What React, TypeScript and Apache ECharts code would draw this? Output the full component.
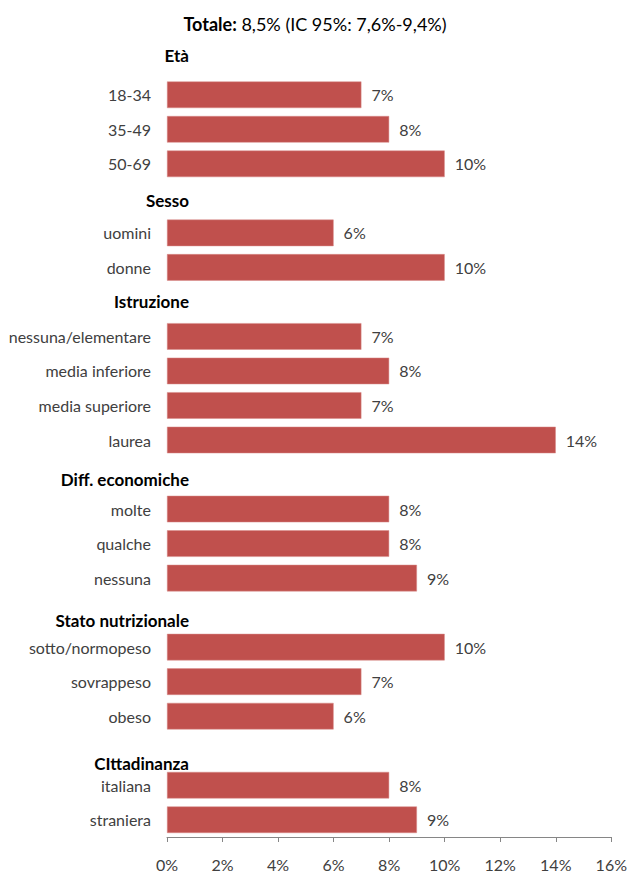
import React, { useEffect, useRef } from "react";
import * as echarts from "echarts";

// ---- data ----
const groupNames = ["Età", "Sesso", "Istruzione", "Diff. economiche", "Stato nutrizionale", "CIttadinanza"];
const etaCats = ["18-34", "35-49", "50-69"];
const etaVals = [7, 8, 10];
const sessoCats = ["uomini", "donne"];
const sessoVals = [6, 10];
const istruzioneCats = ["nessuna/elementare", "media inferiore", "media superiore", "laurea"];
const istruzioneVals = [7, 8, 7, 14];
const diffCats = ["molte", "qualche", "nessuna"];
const diffVals = [8, 8, 9];
const statoCats = ["sotto/normopeso", "sovrappeso", "obeso"];
const statoVals = [10, 7, 6];
const cittCats = ["italiana", "straniera"];
const cittVals = [8, 9];
const xTicks = [0, 2, 4, 6, 8, 10, 12, 14, 16];
const titleBold = "Totale:";
const titleRest = " 8,5% (IC 95%: 7,6%-9,4%)";

const groupCats = [etaCats, sessoCats, istruzioneCats, diffCats, statoCats, cittCats];
const groupVals = [etaVals, sessoVals, istruzioneVals, diffVals, statoVals, cittVals];

// layout (positions only)
const headerY = [57, 202, 303, 481, 622, 765];
const FONT = "Lato, 'Open Sans', sans-serif";

export default function App() {
  const ref = useRef<HTMLDivElement>(null);
  useEffect(() => {
    document.body.style.margin = "0";
    if (!ref.current) return;
    const chart = echarts.init(ref.current, null, { renderer: "svg" });

    const categories: string[] = [];
    const values: (number | null)[] = [];
    const headerSet = new Set<string>();
    groupNames.forEach((g, i) => {
      categories.push(g);
      headerSet.add(g);
      values.push(null);
      groupCats[i].forEach((c, j) => {
        categories.push(c);
        values.push(groupVals[i][j]);
      });
    });
    const keys = categories.map((c, i) => c + "#" + i);

    chart.setOption({
      animation: false,
      textStyle: { fontFamily: FONT },
      title: {
        text: `{b|${titleBold}}{n|${titleRest}}`,
        left: "center",
        top: 10,
        textStyle: {
          fontWeight: "normal",
          rich: {
            b: { fontFamily: FONT, fontSize: 18, fontWeight: "bold", color: "#000" },
            n: { fontFamily: FONT, fontSize: 18, fontWeight: "normal", color: "#000" },
          },
        },
      },
      grid: { left: 167, right: 15, top: 43, bottom: 34, containLabel: false },
      xAxis: {
        type: "value",
        min: xTicks[0],
        max: xTicks[xTicks.length - 1],
        interval: 2,
        axisLine: { show: true, lineStyle: { color: "#868686", width: 1 } },
        axisTick: { show: true, length: 5, lineStyle: { color: "#868686" } },
        splitLine: { show: false },
        axisLabel: {
          formatter: (v: number) => `${v}%`,
          fontSize: 16,
          color: "#404040",
          fontFamily: FONT,
          margin: 19,
        },
      },
      yAxis: {
        type: "category",
        inverse: true,
        data: keys,
        axisLine: { show: false },
        axisTick: { show: false },
        axisLabel: {
          interval: 0,
          margin: 16,
          fontSize: 16,
          color: "#404040",
          fontFamily: FONT,
          formatter: (v: string) => {
            const name = v.replace(/#\d+$/, "");
            return headerSet.has(name) ? "" : name;
          },
        },
      },
      series: [
        {
          type: "bar",
          data: values,
          barCategoryGap: "23%",
          itemStyle: { color: "#C0504D", borderColor: "#D88C8A", borderWidth: 0.5 },
          label: {
            show: true,
            position: "right",
            distance: 10,
            formatter: (p: any) => `${p.value}%`,
            fontSize: 16,
            color: "#404040",
            fontFamily: FONT,
          },
        },
      ],
      graphic: groupNames.map((g, i) => ({
        type: "text",
        right: 630 - 189,
        top: headerY[i] - 10,
        style: {
          text: g,
          fontSize: 17,
          fontWeight: "bold",
          fill: "#000",
          fontFamily: FONT,
        },
      })),
    });
    return () => chart.dispose();
  }, []);
  return <div ref={ref} style={{ width: 630, height: 872 }} />;
}
